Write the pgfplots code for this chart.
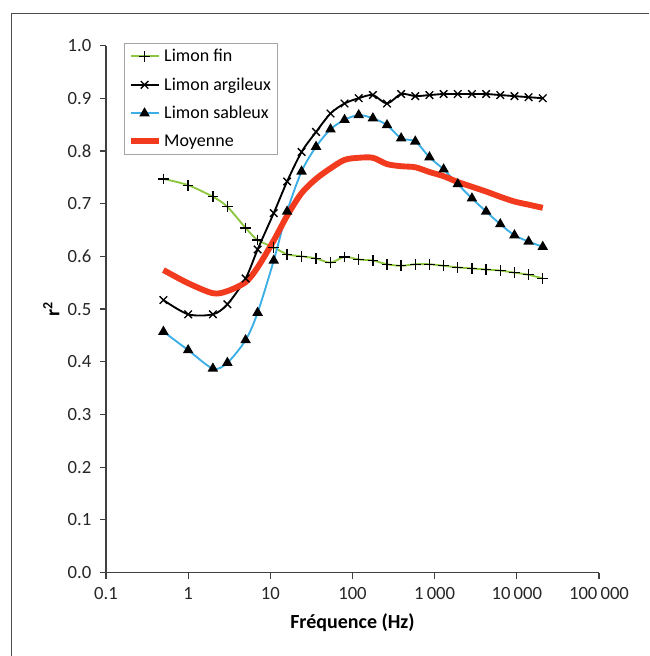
\documentclass[border=0pt]{standalone}
\usepackage{pgfplots}
\usepackage{pgfplotstable}
\pgfplotsset{compat=1.18}
\usepackage{fontspec}
\setmainfont{Carlito}

\definecolor{fingreen}{HTML}{8DC63F}
\definecolor{sabblue}{HTML}{3BAEE6}
\definecolor{moyred}{HTML}{F23A1E}
\definecolor{axgray}{HTML}{404040}

% f = frequency (Hz), r2 per soil type and the mean
\pgfplotstableread{
f      fin    arg    sab    moy
0.5    0.747  0.517  0.457  0.574
1      0.735  0.490  0.422  0.549
2      0.713  0.490  0.387  0.530
3      0.694  0.509  0.398  0.534
5      0.654  0.558  0.441  0.551
7      0.631  0.613  0.493  0.579
11     0.617  0.682  0.592  0.630
16     0.604  0.742  0.685  0.677
24     0.600  0.798  0.761  0.720
36     0.596  0.836  0.808  0.747
54     0.588  0.871  0.841  0.767
80     0.599  0.890  0.859  0.783
119    0.594  0.900  0.868  0.787
177    0.592  0.906  0.862  0.787
263    0.585  0.890  0.849  0.775
391    0.582  0.908  0.824  0.771
581    0.585  0.904  0.818  0.769
864    0.585  0.906  0.788  0.760
1285   0.582  0.908  0.765  0.752
1911   0.579  0.908  0.737  0.741
2842   0.577  0.908  0.710  0.732
4227   0.575  0.908  0.685  0.723
6286   0.573  0.906  0.661  0.713
9350   0.569  0.904  0.640  0.704
13906  0.565  0.902  0.628  0.698
20683  0.558  0.900  0.618  0.692
}\data

\begin{document}
\begin{tikzpicture}
\begin{axis}[
  scale only axis, width=369.75pt, height=395.25pt,
  xmode=log, xmin=0.1, xmax=100000, ymin=0, ymax=1,
  axis lines=left, axis line style={-, axgray, line width=0.9pt},
  tick style={axgray, line width=0.9pt}, tick align=outside,
  major tick length=4.5pt, minor tick num=0,
  xtick={0.1,1,10,100,1000,10000,100000},
  xticklabels={0.1,1,10,100,1\,000,10\,000,100\,000},
  xminorticks=false,
  ytick={0,0.1,...,1.0},
  yticklabel style={xshift=-3pt, /pgf/number format/.cd,fixed,fixed zerofill,precision=1,assume math mode=true},
  xticklabel style={yshift=-3pt},
  tick label style={font=\fontsize{14}{16}\selectfont, text=black!85},
  xlabel={\bfseries Fréquence (Hz)},
  ylabel={\bfseries r\textsuperscript{2}},
  xlabel style={at={(axis description cs:0.5,0)}, anchor=center, yshift=-37.5pt, font=\fontsize{15}{17}\selectfont},
  ylabel style={at={(axis description cs:0,0.5)}, anchor=center, yshift=41pt, font=\fontsize{15}{17}\selectfont},
  legend style={at={(0.0365,1.005)}, anchor=north west, draw=gray!70, fill=white,
    font=\fontsize{13.5}{15}\selectfont, row sep=6.5pt, inner sep=2.5pt},
  legend cell align=left,
  legend image code/.code={\draw[mark repeat=2,mark phase=2] plot coordinates {(0cm,0cm)(0.37cm,0cm)(0.74cm,0cm)};},
  every axis plot/.append style={smooth, tension=0.5},
  clip=false,
]
\coordinate (O) at (rel axis cs:0,0);
\addplot[fingreen, line width=1.4pt, mark=+, mark size=4pt, mark options={black, line width=1pt}]
  table[x=f,y=fin] {\data};
\addlegendentry{Limon fin}
\addplot[black, line width=1.4pt, mark=x, mark size=4pt, mark options={black, line width=1pt}]
  table[x=f,y=arg] {\data};
\addlegendentry{Limon argileux}
\addplot[sabblue, line width=1.4pt, mark=triangle*, mark size=3.2pt, mark options={black, fill=black}]
  table[x=f,y=sab] {\data};
\addlegendentry{Limon sableux}
\addplot[moyred, line width=4.4pt, no marks]
  table[x=f,y=moy] {\data};
\addlegendentry{Moyenne}
\end{axis}
\draw[gray!60!black, line width=1.1pt] ([shift={(-70.7pt,-62.6pt)}]O) -- ([shift={(-70.7pt,419.4pt)}]O) -- ([shift={(407.25pt,419.4pt)}]O);
\pgfresetboundingbox
\path ([shift={(-79.5pt,-62.6pt)}]O) rectangle ([shift={(407.25pt,429.4pt)}]O);
\end{tikzpicture}
\end{document}
